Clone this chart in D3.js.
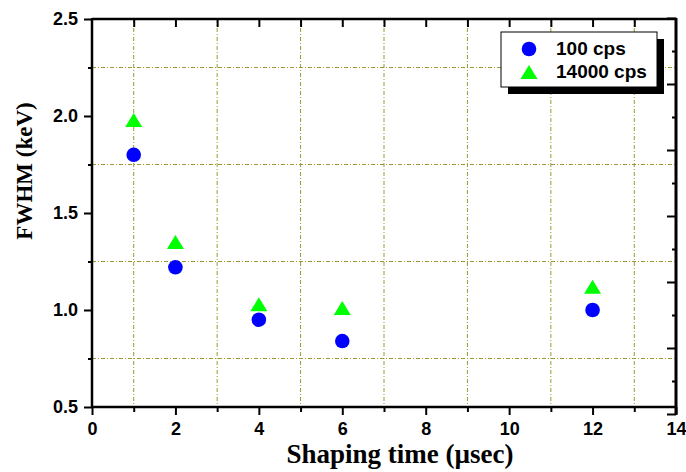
<!DOCTYPE html>
<html>
<head>
<meta charset="utf-8">
<script src="https://cdn.jsdelivr.net/npm/d3@7"></script>
<style>
  body { margin: 0; background: #fff; }
  .tick text { font-family: "Liberation Sans", Arial, sans-serif; font-weight: bold; font-size: 18px; fill: #000; }
</style>
</head>
<body>
<div id="chart"></div>
<script>
// data
const shapingTime = [1, 2, 4, 6, 12];
const fwhm100 = [1.80, 1.22, 0.95, 0.84, 1.00];
const fwhm14000 = [1.98, 1.35, 1.03, 1.01, 1.12];
const seriesNames = ["100 cps", "14000 cps"];
const xTicks = [0, 2, 4, 6, 8, 10, 12, 14];
const yTicks = [0.5, 1.0, 1.5, 2.0, 2.5];

const width = 686;
const height = 472;
const plot = { left: 92, right: 676, top: 19, bottom: 407 };

const svg = d3.select('#chart')
    .append('svg')
    .attr('width', width)
    .attr('height', height);

svg.append('rect').attr('width', width).attr('height', height).attr('fill', '#fff');

const x = d3.scaleLinear().domain([0, 14]).range([plot.left, plot.right]);
const y = d3.scaleLinear().domain([0.5, 2.5]).range([plot.bottom, plot.top]);
// the right hand axis carries its own unlabeled scale
const yRight = d3.scaleLinear().domain([0, 12]).range([414, 18]);

const gridColour = '#9a9a30';

// grid lines sit on the minor positions
const xMinor = d3.range(1, 14, 2);
const yMinor = [0.75, 1.25, 1.75, 2.25];

svg.append('g').selectAll('line')
    .data(xMinor)
    .enter().append('line')
    .attr('x1', d => x(d)).attr('x2', d => x(d))
    .attr('y1', plot.top).attr('y2', plot.bottom)
    .attr('stroke', gridColour)
    .attr('stroke-width', 1)
    .attr('stroke-dasharray', '4,2,1,2');

svg.append('g').selectAll('line')
    .data(yMinor)
    .enter().append('line')
    .attr('x1', plot.left).attr('x2', plot.right)
    .attr('y1', d => y(d)).attr('y2', d => y(d))
    .attr('stroke', gridColour)
    .attr('stroke-width', 1)
    .attr('stroke-dasharray', '4,2,1,2');

// bottom axis
svg.append('g')
    .attr('transform', `translate(0,${plot.bottom})`)
    .call(d3.axisBottom(x).tickValues(xTicks).tickSize(8).tickPadding(7).tickFormat(d3.format('d')));
svg.append('g')
    .attr('transform', `translate(0,${plot.bottom})`)
    .call(d3.axisBottom(x).tickValues(xMinor).tickSize(5).tickFormat(''));

// left axis
svg.append('g')
    .attr('transform', `translate(${plot.left},0)`)
    .call(d3.axisLeft(y).tickValues(yTicks).tickSize(8).tickPadding(6).tickFormat(d3.format('.1f')));
svg.append('g')
    .attr('transform', `translate(${plot.left},0)`)
    .call(d3.axisLeft(y).tickValues(yMinor).tickSize(4).tickFormat(''));

// top axis, ticks pointing in
svg.append('g')
    .attr('transform', `translate(0,${plot.top})`)
    .call(d3.axisTop(x).tickValues(d3.range(1, 14)).tickSize(-8).tickFormat(''));

// right axis, ticks pointing in
const rMajor = d3.range(0, 13, 2);
const rMinor = d3.range(1, 12, 2);
svg.append('g')
    .attr('transform', `translate(${plot.right},0)`)
    .call(d3.axisRight(yRight).tickValues(rMajor).tickSize(-9).tickFormat(''));
svg.append('g')
    .attr('transform', `translate(${plot.right},0)`)
    .call(d3.axisRight(yRight).tickValues(rMinor).tickSize(-4).tickFormat(''));

// axis lines drawn heavier
svg.selectAll('.domain').remove();
svg.selectAll('.tick line').attr('stroke', '#000').attr('stroke-width', 2);
svg.append('line').attr('x1', plot.left).attr('x2', plot.right + 1)
    .attr('y1', plot.bottom).attr('y2', plot.bottom).attr('stroke', '#000').attr('stroke-width', 2.5);
svg.append('line').attr('x1', plot.left).attr('x2', plot.left)
    .attr('y1', plot.top - 1).attr('y2', plot.bottom + 1).attr('stroke', '#000').attr('stroke-width', 2.5);
svg.append('line').attr('x1', plot.left).attr('x2', plot.right + 1)
    .attr('y1', plot.top).attr('y2', plot.top).attr('stroke', '#000').attr('stroke-width', 2.5);
svg.append('line').attr('x1', plot.right).attr('x2', plot.right)
    .attr('y1', yRight(12)).attr('y2', yRight(0)).attr('stroke', '#000').attr('stroke-width', 3);

// triangle marker, centred on its box
function triangle(cx, cy) {
    return `M${cx},${cy - 7}L${cx + 8.5},${cy + 7}L${cx - 8.5},${cy + 7}Z`;
}

svg.append('g').selectAll('circle')
    .data(shapingTime)
    .enter().append('circle')
    .attr('cx', d => x(d))
    .attr('cy', (d, i) => y(fwhm100[i]))
    .attr('r', 7.3)
    .attr('fill', '#0000ff');

svg.append('g').selectAll('path')
    .data(shapingTime)
    .enter().append('path')
    .attr('d', (d, i) => triangle(x(d), y(fwhm14000[i])))
    .attr('fill', '#00ff00');

// axis titles
svg.append('text')
    .attr('x', 400).attr('y', 463)
    .attr('text-anchor', 'middle')
    .style('font-family', '"Liberation Serif", "Times New Roman", serif')
    .style('font-weight', 'bold')
    .style('font-size', '27px')
    .text('Shaping time (µsec)');

svg.append('text')
    .attr('transform', 'translate(32,171) rotate(-90)')
    .attr('text-anchor', 'middle')
    .style('font-family', '"Liberation Serif", "Times New Roman", serif')
    .style('font-weight', 'bold')
    .style('font-size', '23px')
    .text('FWHM (keV)');

// legend with drop shadow
const legend = svg.append('g').attr('transform', 'translate(501,32)');
legend.append('rect').attr('x', 7).attr('y', 7).attr('width', 156).attr('height', 55).attr('fill', '#000');
legend.append('rect').attr('width', 156).attr('height', 55).attr('fill', '#fff').attr('stroke', '#000').attr('stroke-width', 1);
legend.append('circle').attr('cx', 28).attr('cy', 17).attr('r', 7.3).attr('fill', '#0000ff');
legend.append('path').attr('d', triangle(28, 40)).attr('fill', '#00ff00');
legend.selectAll('text.lab')
    .data(seriesNames)
    .enter().append('text')
    .attr('class', 'lab')
    .attr('x', 55)
    .attr('y', (d, i) => 23 + i * 22.5)
    .style('font-family', '"Liberation Sans", Arial, sans-serif')
    .style('font-weight', 'bold')
    .style('font-size', '19px')
    .text(d => d);
</script>
</body>
</html>
